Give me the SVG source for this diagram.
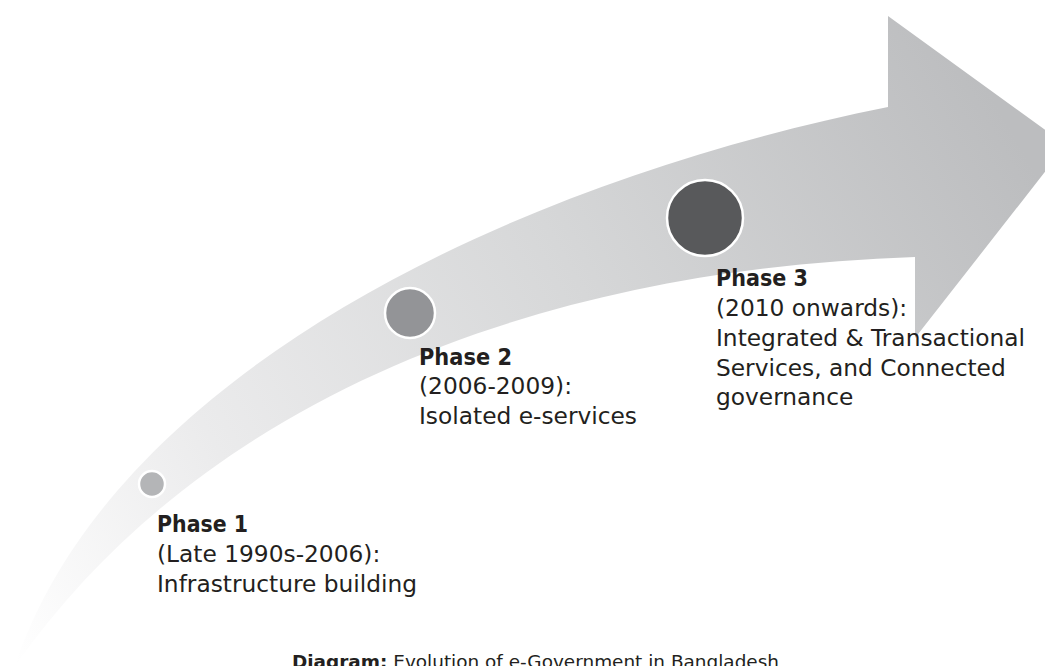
<svg xmlns="http://www.w3.org/2000/svg" width="1045" height="666" viewBox="0 0 1045 666">
  <defs>
    <linearGradient id="arrowFill" gradientUnits="userSpaceOnUse" x1="15" y1="666" x2="1000" y2="110">
      <stop offset="0" stop-color="#ffffff"/>
      <stop offset="0.25" stop-color="#ebebec"/>
      <stop offset="0.6" stop-color="#d6d7d8"/>
      <stop offset="1" stop-color="#bcbdbf"/>
    </linearGradient>
    <style>
      text { font-family: "DejaVu Sans", "Liberation Sans", sans-serif; fill: #231f20; }
      .title { font-size: 23px; font-weight: bold; }
      .body { font-size: 23.3px; }
      .marker { stroke: #ffffff; stroke-width: 2.5; }
      .caption { font-size: 17px; }
    </style>
  </defs>

  <rect width="1045" height="666" fill="#ffffff"/>

  <!-- curved timeline arrow -->
  <g id="arrow">
    <path fill="url(#arrowFill)" d="M15,666 C110,380 500,185 888,107 L888,16 L1066,145 L915,338 L915,257 C580,268 220,375 15,666 Z"/>
  </g>

  <g id="phase1">
    <circle class="marker" cx="152" cy="484" r="13" fill="#b4b5b7"/>
    <text class="title" x="157" y="532" textLength="91" lengthAdjust="spacingAndGlyphs">Phase 1</text>
    <text class="body" x="157" y="562">(Late 1990s-2006):</text>
    <text class="body" x="157" y="592">Infrastructure building</text>
  </g>

  <g id="phase2">
    <circle class="marker" cx="410" cy="313" r="25" fill="#939497"/>
    <text class="title" x="419" y="365" textLength="93" lengthAdjust="spacingAndGlyphs">Phase 2</text>
    <text class="body" x="419" y="394">(2006-2009):</text>
    <text class="body" x="419" y="424">Isolated e-services</text>
  </g>

  <g id="phase3">
    <circle class="marker" cx="705" cy="218" r="38" fill="#58595b"/>
    <text class="title" x="716" y="286" textLength="92" lengthAdjust="spacingAndGlyphs">Phase 3</text>
    <text class="body" x="716" y="316">(2010 onwards):</text>
    <text class="body" x="716" y="346">Integrated &amp; Transactional</text>
    <text class="body" x="716" y="376">Services, and Connected</text>
    <text class="body" x="716" y="405">governance</text>
  </g>

  <g id="caption">
    <text class="caption" x="292" y="668" textLength="487" lengthAdjust="spacingAndGlyphs"><tspan font-weight="bold">Diagram:</tspan> Evolution of e-Government in Bangladesh</text>
  </g>
</svg>
